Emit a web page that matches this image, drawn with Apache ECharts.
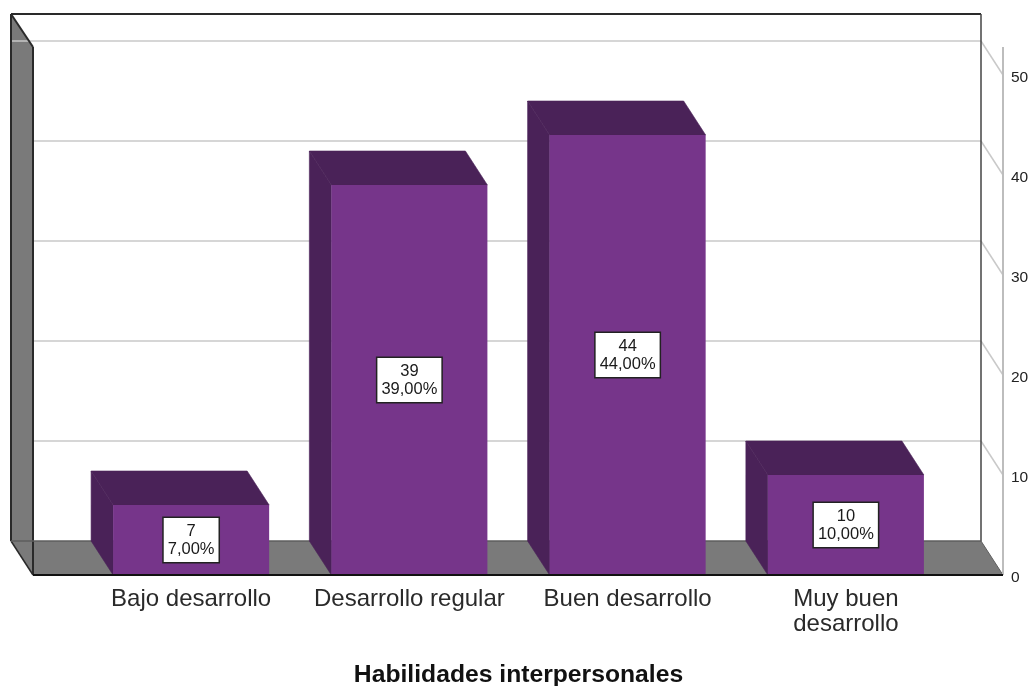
<!DOCTYPE html>
<html>
<head>
<meta charset="utf-8">
<style>html,body{margin:0;padding:0;background:#fff}#c{width:1032px;height:686px}</style>
<script src="https://cdn.jsdelivr.net/npm/echarts@6/dist/echarts.min.js"></script>
</head>
<body>
<div id="c"></div>
<script>
const categories = ['Bajo desarrollo', 'Desarrollo regular', 'Buen desarrollo', 'Muy buen\ndesarrollo'];
const counts = [7, 39, 44, 10];
const percents = ['7,00%', '39,00%', '44,00%', '10,00%'];
const yTicks = [0, 10, 20, 30, 40, 50];
const axisTitle = 'Habilidades interpersonales';

const DX = 22, DY = 34;
const FONT = '"Liberation Sans", Arial, sans-serif';
const C = {front:'#76358A', dark:'#4A2258', wall:'#7A7A7A', grid:'#C9C9C9', axis:'#BDBDBD', edge:'#2A2A2A', floorEdge:'#5E5E5E'};

const poly = (points, fill, stroke, lw) => ({type:'polygon', shape:{points}, style:{fill, stroke:stroke||null, lineWidth:lw||0}, silent:true});
const line = (x1,y1,x2,y2,stroke,lw) => ({type:'line', shape:{x1,y1,x2,y2}, style:{stroke, lineWidth:lw}, silent:true});

function renderFrame(params, api) {
  const L = 33, R = 1003;
  const y0 = api.coord([0, 0])[1];
  const yTop = api.coord([0, yTicks[yTicks.length-1]])[1];
  const bTop = yTop - DY - 27, bBot = y0 - DY;
  const bL = L - DX, bR = R - DX;
  const ch = [];
  ch.push(poly([[bL,bTop],[bL,bBot],[L,y0],[L,bTop+DY-1]], C.wall));
  ch.push(poly([[bL,bBot],[bR,bBot],[R,y0],[L,y0]], C.wall));
  yTicks.forEach(v => {
    if (v === 0) return;
    const y = api.coord([0, v])[1];
    const startX = v === yTicks[yTicks.length-1] ? bL : L;
    ch.push(line(startX, y-DY, bR, y-DY, C.grid, 1.5));
    ch.push(line(bR, y-DY, R, y, C.grid, 1.5));
  });
  ch.push(line(bL, bTop, bR, bTop, C.edge, 2));
  ch.push(line(bR, bTop, bR, bBot, '#444', 1.5));
  ch.push(line(bL, bTop, bL, bBot, C.edge, 2));
  ch.push(line(L, bTop+DY-1, L, y0, C.edge, 2));
  ch.push(line(bL, bTop, L, bTop+DY-1, C.edge, 2));
  ch.push(line(bL, bBot, L, y0, C.edge, 1.5));
  ch.push(line(bL, bBot, bR, bBot, C.floorEdge, 1.5));
  ch.push(line(bR, bBot, R, y0, C.floorEdge, 1));
  ch.push(line(R, yTop-28, R, y0, C.axis, 2));
  return {type:'group', children:ch};
}

function renderBar(params, api) {
  const i = api.value(0), v = api.value(1);
  const p = api.coord([i, v]);
  const base = api.coord([i, 0]);
  const w = api.size([1, 0])[0] * 0.715;
  const l = p[0] - w/2, r = p[0] + w/2, t = p[1], b = base[1];
  return {type:'group', children:[
    poly([[l-DX,t-DY],[l,t],[l,b],[l-DX,b-DY]], C.dark, C.dark, 0.6),
    poly([[l-DX,t-DY],[r-DX,t-DY],[r,t],[l,t]], C.dark, C.dark, 0.6),
    poly([[l,t],[r,t],[r,b],[l,b]], C.front),
    {type:'text', silent:true, z2:10, style:{
      text: counts[i] + '\n' + percents[i], x:p[0], y:(t+b)/2,
      align:'center', verticalAlign:'middle', font:'16.5px '+FONT, lineHeight:18,
      fill:'#1a1a1a', backgroundColor:'#fff', borderColor:'#222', borderWidth:1.5, padding:[4,4,4,4]
    }}
  ]};
}

function renderFrontEdge(params, api) {
  const y0 = api.coord([0, 0])[1];
  return line(33, y0, 1003, y0, '#111', 2);
}

const chart = echarts.init(document.getElementById('c'), null, {renderer:'canvas'});
chart.setOption({
  animation:false,
  backgroundColor:'#fff',
  grid:{left:82, right:77, top:75, bottom:111, containLabel:false, outerBoundsMode:'none'},
  xAxis:{
    type:'category', data:categories,
    axisLine:{show:false}, axisTick:{show:false}, splitLine:{show:false},
    axisLabel:{interval:0, color:'#2a2a2a', fontFamily:FONT, fontSize:24, lineHeight:25, margin:12},
    name:axisTitle, nameLocation:'middle', nameGap:88,
    nameTextStyle:{color:'#111', fontFamily:FONT, fontSize:24.7, fontWeight:'bold'}
  },
  yAxis:{
    type:'value', position:'right', offset:48, min:0, max:50, interval:10,
    axisLine:{show:false}, axisTick:{show:false}, splitLine:{show:false},
    axisLabel:{
      align:'left', margin:8, verticalAlign:'middle',
      formatter: v => '{t|' + v + '}',
      rich:{t:{color:'#222', fontFamily:FONT, fontSize:15.5, padding:[5,0,0,0]}}
    }
  },
  series:[
    {type:'custom', z:1, renderItem:renderFrame, data:[[0,0]], encode:{x:0,y:1}},
    {type:'custom', z:2, renderItem:renderBar, data:counts.map((v,i)=>[i,v]), encode:{x:0,y:1}},
    {type:'custom', z:3, renderItem:renderFrontEdge, data:[[0,0]], encode:{x:0,y:1}}
  ]
});
</script>
</body>
</html>
